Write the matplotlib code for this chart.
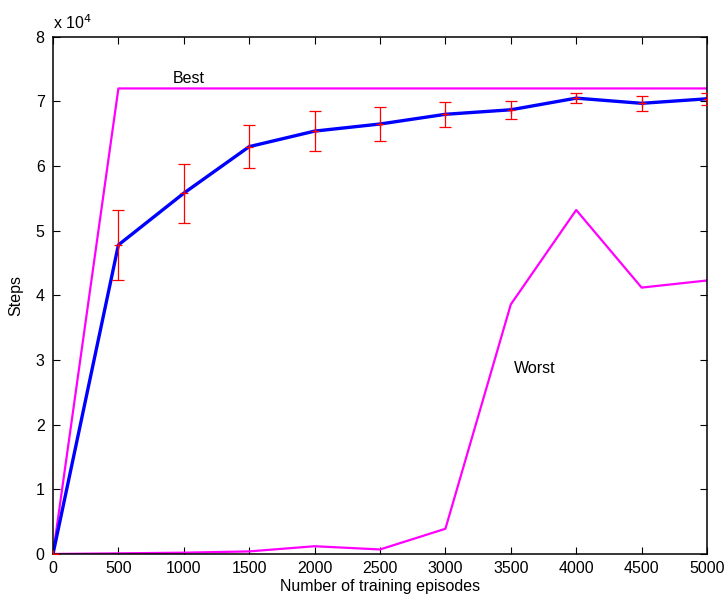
import numpy as np
import matplotlib.pyplot as plt
from matplotlib.ticker import FuncFormatter

# training episodes sampled every 500
episodes = [0, 500, 1000, 1500, 2000, 2500, 3000, 3500, 4000, 4500, 5000]

# steps survived (x 1e4)
best_steps = [0, 7.2, 7.2, 7.2, 7.2, 7.2, 7.2, 7.2, 7.2, 7.2, 7.2]
worst_steps = [0, 0.01, 0.02, 0.04, 0.12, 0.07, 0.39, 3.86, 5.32, 4.12, 4.23]
mean_steps = [0, 4.78, 5.58, 6.30, 6.54, 6.65, 6.80, 6.87, 7.05, 6.97, 7.04]
std_steps = [0, 0.54, 0.455, 0.33, 0.31, 0.26, 0.19, 0.14, 0.075, 0.12, 0.09]


def plotResults():
    """Plot best, worst and mean steps against training episodes"""
    plt.rcParams['font.family'] = ['Liberation Sans', 'DejaVu Sans']
    fig = plt.figure(figsize=(7.25, 5.98), dpi=100)
    ax = fig.add_axes([0.0731, 0.0736, 0.9021, 0.865])

    x = np.array(episodes)
    scale = 1e4
    ax.plot(x, np.array(best_steps) * scale, color=(1, 0, 1), lw=1.6)
    ax.plot(x, np.array(worst_steps) * scale, color=(1, 0, 1), lw=1.6)
    ax.plot(x, np.array(mean_steps) * scale, color=(0, 0, 1), lw=2.4)
    ax.errorbar(x, np.array(mean_steps) * scale, yerr=np.array(std_steps) * scale,
                fmt='+', color=(1, 0, 0), ecolor=(1, 0, 0), elinewidth=0.9,
                capsize=4.6, capthick=0.9, markersize=6, mew=0.9, zorder=4)

    fs = 11.5
    ax.text(917, 7.28 * scale, 'Best', fontsize=fs)
    ax.text(3525, 2.87 * scale, 'Worst', fontsize=fs, va='center')

    ax.set_xlim(0, 5000)
    ax.set_ylim(0, 8e4)
    ax.set_xticks(range(0, 5001, 500))
    ax.set_yticks(np.arange(0, 8.1, 1) * scale)
    ax.yaxis.set_major_formatter(FuncFormatter(lambda v, p: '%d' % round(v / scale)))
    ax.tick_params(direction='in', length=5, width=0.8, labelsize=fs,
                   top=True, right=True)
    ax.tick_params(axis='x', pad=5)
    ax.tick_params(axis='y', pad=6)
    for s in ax.spines.values():
        s.set_linewidth(1.1)

    ax.text(0, 1.01, r'x 10$^4$', transform=ax.transAxes, fontsize=fs,
            va='bottom', ha='left')
    ax.set_xlabel('Number of training episodes', fontsize=fs, labelpad=2)
    ax.set_ylabel('Steps', fontsize=fs, labelpad=9)

    fig.savefig('out.png', dpi=100)


if __name__ == '__main__':
    plotResults()
